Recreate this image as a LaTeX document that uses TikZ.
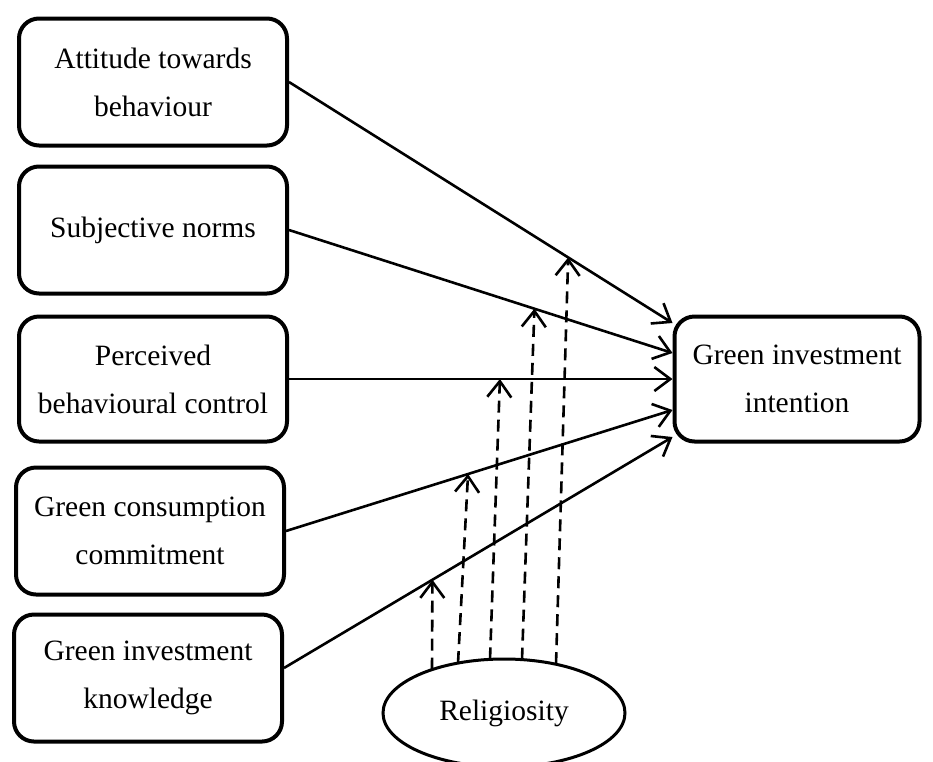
\documentclass[tikz,border=0pt]{standalone}
\usepackage{fontspec}
\setmainfont{Liberation Serif}
\usetikzlibrary{arrows.meta,shapes.geometric,calc}
\begin{document}
\begin{tikzpicture}[x=1pt,y=-1pt,
  box/.style={draw, line width=4pt, rounded corners=20pt, align=center,
    font=\fontsize{29.5}{48}\selectfont, inner sep=0pt,
    minimum width=268pt, minimum height=127pt},
  link/.style={line width=2.6pt, -{Straight Barb[length=16pt,width=24pt]}},
  modlink/.style={link, dash pattern=on 12pt off 7pt}]
\useasboundingbox (0,0) rectangle (933,761);
\clip (0,0) rectangle (933,761);

\node[box] (b1) at (153,82) {Attitude towards\\behaviour};
\node[box] (b2) at (153,230) {Subjective norms};
\node[box, minimum height=125pt] (b3) at (153,379) {Perceived\\behavioural control};
\node[box] (b4) at (150,531) {Green consumption\\commitment};
\node[box] (b5) at (148,678) {Green investment\\knowledge};
\node[box, minimum width=245pt, minimum height=125pt] (gi) at (797,379) {Green investment\\intention};
\node[draw, ellipse, line width=3pt, minimum width=242pt, minimum height=108pt,
  inner sep=0pt, font=\fontsize{29.5}{48}\selectfont] (rel) at (504,713) {Religiosity};

\coordinate (e1) at (gi.west |- 0,323);
\coordinate (e2) at (gi.west |- 0,353);
\coordinate (e3) at (gi.west |- 0,379);
\coordinate (e4) at (gi.west |- 0,410);
\coordinate (e5) at (gi.west |- 0,437);
\coordinate (s5) at ($(b5.east)+(0,-10)$);

\draw[link] (b1.east) -- coordinate[pos=0.728] (m1) (e1);
\draw[link] (b2.east) -- coordinate[pos=0.64] (m2) (e2);
\draw[link] (b3.east) -- coordinate[pos=0.55] (m3) (e3);
\draw[link] (b4.east) -- coordinate[pos=0.471] (m4) (e4);
\draw[link] (s5) -- coordinate[pos=0.382] (m5) (e5);

\coordinate (r1) at ($(rel.center)+(-72,-43.4)$);
\coordinate (r2) at ($(rel.center)+(-46,-49.9)$);
\coordinate (r3) at ($(rel.center)+(-14,-53.6)$);
\coordinate (r4) at ($(rel.center)+(18,-53.4)$);
\coordinate (r5) at ($(rel.center)+(52,-48.8)$);

\draw[modlink] (r1) -- (m5);
\draw[modlink] (r2) -- (m4);
\draw[modlink] (r3) -- (m3);
\draw[modlink] (r4) -- (m2);
\draw[modlink] (r5) -- (m1);
\end{tikzpicture}
\end{document}
